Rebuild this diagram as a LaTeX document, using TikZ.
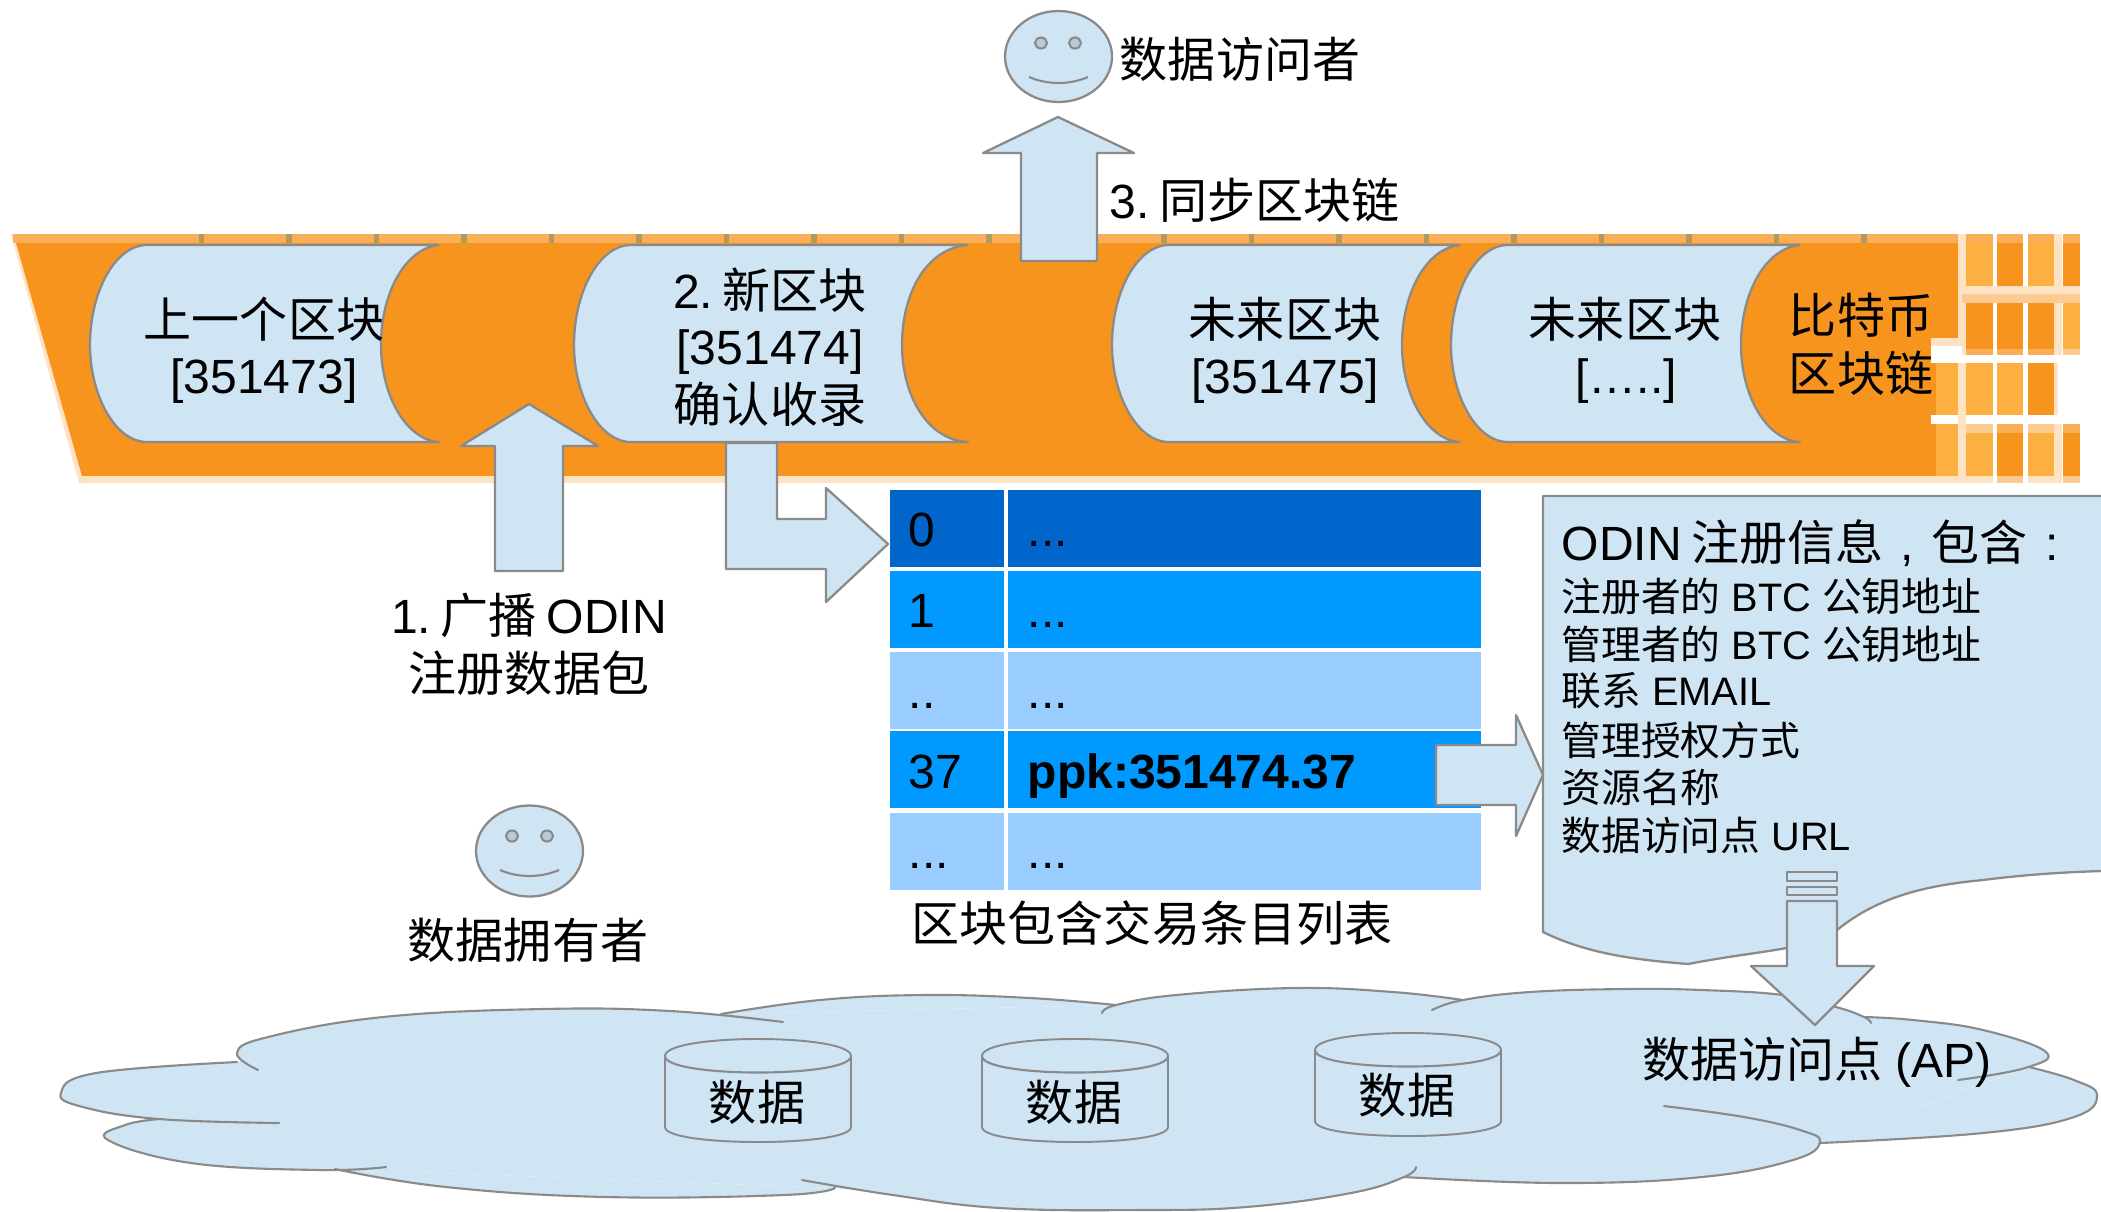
\documentclass[tikz,border=0pt]{standalone}
\usepackage{fontspec}
\setmainfont{Liberation Sans}
\newfontfamily\cjk{Noto Sans CJK SC}
\newcommand\C[1]{{\cjk #1}}
\newcommand\G{\hskip 0.2em\relax}
\definecolor{skin}{HTML}{CFE5F4}
\definecolor{edge}{HTML}{8A8A8A}
\definecolor{org}{HTML}{F7941E}
\definecolor{orgL}{HTML}{FDB042}
\definecolor{orgS}{HTML}{F9AF57}
\definecolor{orgP}{HTML}{FDE2C4}
\definecolor{orgM}{HTML}{FBCB92}
\definecolor{tick}{HTML}{B09A5F}
\definecolor{rowA}{HTML}{0066CC}
\definecolor{rowB}{HTML}{0099FF}
\definecolor{rowC}{HTML}{99CCFF}
\tikzset{
  x=0.01cm,y=-0.01cm,
  big/.style={font=\fontsize{13.66}{16}\selectfont,inner sep=0pt},
  small/.style={font=\fontsize{11.3}{13}\selectfont,inner sep=0pt,anchor=west},
  shapeline/.style={draw=edge,fill=skin,line width=0.65pt,line join=round},
  thinline/.style={draw=edge,line width=0.6pt},
  cellt/.style={big,anchor=base west},
  lobefill/.style={fill=skin},
  lobeline/.style={draw=edge,line width=0.6pt,line cap=round},
}
% block(left, concave-extreme, right)
\newcommand\blockshape[3]{%
  \path[shapeline] (#3,245) -- (#1+57,245)
    .. controls (#1+25,245) and (#1,292) .. (#1,345)
    .. controls (#1,395) and (#1+25,442) .. (#1+57,442)
    -- (#3,442)
    .. controls (#2+25,440) and (#2,395) .. (#2,345)
    .. controls (#2,292) and (#2+25,248) .. (#3,245);}
\newcommand\cell[5]{\fill[#5] (#1,#3) rectangle (#2,#4);}
\newcommand\lobe[1]{\fill[lobefill] plot[smooth,tension=0.7] coordinates {#1};}
\newcommand\lobel[1]{\draw[lobeline] plot[smooth,tension=0.7] coordinates {#1};}
\newcommand\datacyl[3]{% x-left, x-right, top
  \path[shapeline,line width=0.55pt] (#1,#3+17) .. controls (#1,#3-5.7) and (#2,#3-5.7) .. (#2,#3+17)
     -- (#2,#3+88) .. controls (#2,#3+108) and (#1,#3+108) .. (#1,#3+88) -- cycle;
  \draw[thinline] (#1,#3+17) .. controls (#1,#3+39) and (#2,#3+39) .. (#2,#3+17);
}
\begin{document}
\begin{tikzpicture}
\useasboundingbox (0,0) rectangle (2101,1211);
% ---- band
\fill[orgP] (11,234) -- (17,234) -- (86,483) -- (79,483) -- cycle;
\fill[orgS] (13,234) rectangle (1958,243);
\fill[org] (16,243) -- (1958,243) -- (1958,338) -- (1931,338) -- (1931,476) -- (82,476) -- cycle;
\fill[orgP] (82,476) rectangle (1958,483);
\foreach \k in {0,...,19}{\fill[tick] (198.5+87.5*\k,234) rectangle ++(5.5,9);}
% mosaic
\fill[orgP] (1958,234) rectangle (1966,355);
\fill[orgP] (2054,234) rectangle (2062,355);
\fill[orgP] (1962,286) rectangle (2080,294);
\fill[orgM] (1962,294) rectangle (2080,303);
\cell{1966}{1993}{234}{286}{orgL}\cell{1997}{2023}{234}{286}{org}\cell{2028}{2054}{234}{286}{orgL}\cell{2063}{2080}{234}{286}{org}
\cell{1966}{1993}{234}{243}{orgS}\cell{1997}{2023}{234}{243}{orgS}\cell{2028}{2054}{234}{243}{orgS}\cell{2063}{2080}{234}{243}{orgS}
\cell{1966}{1993}{303}{349}{org}\cell{1997}{2023}{303}{349}{org}\cell{2028}{2054}{303}{349}{org}\cell{2063}{2080}{303}{349}{orgL}
\cell{1966}{1993}{349}{355}{orgS}\cell{1997}{2023}{349}{355}{orgS}\cell{2028}{2054}{349}{355}{orgS}\cell{2063}{2080}{349}{355}{orgM}
\fill[orgP] (1931,338) rectangle (1962,346);
\fill[white] (1931,346) rectangle (1962,363);
\fill[white] (1931,415) rectangle (2058,424);
\fill[orgP] (1958,363) rectangle (1966,483);
\fill[orgP] (2054,363) rectangle (2058,415);
\fill[orgP] (2054,424) rectangle (2062,483);
\cell{1936}{1958}{363}{415}{orgL}\cell{1966}{1993}{363}{415}{orgL}\cell{1997}{2023}{363}{415}{orgL}\cell{2028}{2054}{363}{415}{org}
\cell{1936}{1958}{424}{476}{orgL}\cell{1966}{1993}{424}{476}{orgL}\cell{1997}{2023}{424}{476}{org}\cell{2028}{2054}{424}{476}{orgL}\cell{2063}{2080}{424}{476}{org}
\cell{1931}{1936}{363}{415}{org}\cell{1931}{1936}{424}{476}{org}
\cell{1966}{1993}{424}{433}{orgM}\cell{1997}{2023}{424}{433}{orgS}\cell{2028}{2054}{424}{433}{orgM}\cell{2063}{2080}{424}{433}{orgS}
\cell{1966}{1993}{476}{483}{orgP}\cell{1997}{2023}{476}{483}{orgM}\cell{2028}{2054}{476}{483}{orgP}\cell{2063}{2080}{476}{483}{orgM}
% ---- blocks
\blockshape{90}{381}{439}
\blockshape{574}{902}{968}
\blockshape{1112}{1402}{1460}
\blockshape{1451}{1741}{1800}
\node[big] (b1a) at (264,319) {\C{上一个区块}};
\node[big] (b1b) at (264,381) {[351473]};
\node[big] (b2a) at (770,290) {2.\G\C{新区块}};
\node[big] (b2b) at (770,352) {[351474]};
\node[big] (b2c) at (770,404) {\C{确认收录}};
\node[big] (b3a) at (1285,319) {\C{未来区块}};
\node[big] (b3b) at (1285,381) {[351475]};
\node[big] (b4a) at (1625,319) {\C{未来区块}};
\node[big] (b4b) at (1626,381) {[…..]};
\node[big] (chainA) at (1861,315) {\C{比特币}};
\node[big] (chainB) at (1861,373) {\C{区块链}};
% ---- table
\fill[rowA] (890,490) rectangle (1004,567); \fill[rowA] (1008,490) rectangle (1481,567);
\fill[rowB] (890,571) rectangle (1004,648); \fill[rowB] (1008,571) rectangle (1481,648);
\fill[rowC] (890,652) rectangle (1004,729); \fill[rowC] (1008,652) rectangle (1481,729);
\fill[rowB] (890,731) rectangle (1004,808); \fill[rowB] (1008,731) rectangle (1481,808);
\fill[rowC] (890,813) rectangle (1004,890); \fill[rowC] (1008,813) rectangle (1481,890);
\node[cellt] (t0a) at (908,546) {0};
\node[cellt] (t0b) at (1027,546) {...};
\node[cellt] (t1a) at (908,627) {1};
\node[cellt] (t1b) at (1027,627) {...};
\node[cellt] (t2a) at (908,708) {..};
\node[cellt] (t2b) at (1027,708) {...};
\node[cellt] (t3a) at (908,788) {37};
\node[cellt] (t3b) at (1027,788) {\bfseries ppk:351474.37};
\node[cellt] (t4a) at (908,868) {...};
\node[cellt] (t4b) at (1027,868) {...};
\node[big] (tcap) at (1152,923) {\C{区块包含交易条目列表}};
% ---- document
\path[shapeline] (2101,496) -- (1543,496) -- (1543,932)
   .. controls (1590,955) and (1640,960) .. (1688,964)
   .. controls (1760,950) and (1810,950) .. (1837,930)
   .. controls (1880,895) and (1930,885) .. (1983,880)
   .. controls (2030,874) and (2070,872) .. (2101,871);
\node[big,anchor=west] (dt) at (1561,543) {ODIN\G\C{注册信息}\makebox[1em][c]{,}\C{包含}\makebox[1em][c]{:}};
\node[small] (d1) at (1561,596) {\C{注册者的} BTC \C{公钥地址}};
\node[small] (d2) at (1561,644) {\C{管理者的} BTC \C{公钥地址}};
\node[small] (d3) at (1561,691) {\C{联系} EMAIL};
\node[small] (d4) at (1561,740) {\C{管理授权方式}};
\node[small] (d5) at (1561,787) {\C{资源名称}};
\node[small] (d6) at (1561,835) {\C{数据访问点} URL};
% ---- arrows
\path[shapeline] (495,571) -- (495,446) -- (461,446) -- (529,404) -- (598,446) -- (563,446) -- (563,571) -- cycle;
\path[shapeline] (726,443) -- (777,443) -- (777,519) -- (826,519) -- (826,488) -- (888,544) -- (826,602) -- (826,569) -- (726,569) -- cycle;
\path[shapeline] (1021,261) -- (1021,153) -- (983,153) -- (1058,117) -- (1134,153) -- (1097,153) -- (1097,261) -- cycle;
\path[shapeline] (1436,745) -- (1516,745) -- (1516,715) -- (1543,775) -- (1516,836) -- (1516,805) -- (1436,805) -- cycle;
% ---- people
\draw[shapeline] (1058.5,56.5) ellipse[x radius=53.5,y radius=45.5];
\draw[thinline,fill=skin!70!edge] (1041,43) ellipse[x radius=6,y radius=5.5];
\draw[thinline,fill=skin!70!edge] (1075,43) ellipse[x radius=6,y radius=5.5];
\draw[thinline] (1029,77) .. controls (1048,85) and (1069,85) .. (1088,77);
\node[big] (reader) at (1240,59) {\C{数据访问者}};
\node[big,anchor=west] (sync) at (1109,200) {3.\G\C{同步区块链}};
\draw[shapeline] (529.5,851) ellipse[x radius=53.5,y radius=45.5];
\draw[thinline,fill=skin!70!edge] (512,836) ellipse[x radius=6,y radius=5.5];
\draw[thinline,fill=skin!70!edge] (547,836) ellipse[x radius=6,y radius=5.5];
\draw[thinline] (500,870) .. controls (519,878) and (540,878) .. (559,870);
\node[big] (l1a) at (529,615) {1.\G\C{广播}\G ODIN};
\node[big] (l1b) at (529,673) {\C{注册数据包}};
\node[big] (owner) at (528,940) {\C{数据拥有者}};
% ---- cloud
\fill[lobefill] (159,1119) -- (237,1062) -- (400,1020) -- (721,1014) -- (1116,1005) -- (1463,1000) -- (1864,1017) -- (2025,1068) -- (1820,1143) -- (1404,1177) -- (1000,1205) -- (835,1188) -- (335,1169) -- cycle;
\def\lA{(258,1070)(237,1053)(268,1037)(383,1017)(542,1009)(670,1011)(783,1022)}
\def\lB{(721,1014)(820,1000)(925,995)(1030,998)(1116,1005)}
\def\lC{(1102,1013)(1116,1005)(1176,995)(1295,988)(1393,992)(1463,1000)}
\def\lD{(1432,1010)(1463,1000)(1530,992)(1625,989)(1702,990)(1783,995)(1836,1007)(1864,1017)(1871,1023)}
\def\lE{(1864,1017)(1913,1020)(1983,1030)(2046,1052)(2025,1068)(1958,1080)}
\def\lF{(2029,1067)(2074,1080)(2097,1095)(2074,1117)(1983,1133)(1820,1143)}
\def\lG{(1664,1106)(1744,1117)(1800,1130)(1820,1142)(1793,1160)(1702,1177)(1562,1183)(1404,1177)}
\def\lH{(1416,1167)(1404,1177)(1351,1193)(1246,1207)(1140,1210)(1000,1208)(893,1195)(802,1180)}
\def\lI{(835,1188)(784,1195)(606,1197)(446,1187)(335,1169)}
\def\lJ{(386,1167)(319,1170)(191,1163)(108,1140)(125,1125)(159,1119)}
\def\lK{(279,1123)(159,1119)(83,1107)(61,1093)(96,1073)(237,1062)}
\foreach \p in {\lA,\lB,\lC,\lD,\lE,\lF,\lG,\lH,\lI,\lJ,\lK}{
  \expandafter\lobe\expandafter{\p}
}
\foreach \p in {\lA,\lB,\lC,\lD,\lE,\lF,\lG,\lH,\lI,\lJ,\lK}{
  \expandafter\lobel\expandafter{\p}
}
\datacyl{665}{851}{1039}
\datacyl{982}{1168}{1039}
\datacyl{1315}{1501}{1033}
\node[big] (data1) at (757,1102) {\C{数据}};
\node[big] (data2) at (1074,1102) {\C{数据}};
\node[big] (data3) at (1407,1095) {\C{数据}};
\node[big] (ap) at (1817,1062) {\C{数据访问点} (AP)};
% ---- striped arrow to AP
\path[shapeline,line width=0.55pt] (1787,872) rectangle (1837,881);
\path[shapeline,line width=0.55pt] (1787,887) rectangle (1837,895);
\path[shapeline] (1787,901) -- (1837,901) -- (1837,966) -- (1874,966) -- (1815,1025) -- (1751,966) -- (1787,966) -- cycle;
\end{tikzpicture}
\end{document}
